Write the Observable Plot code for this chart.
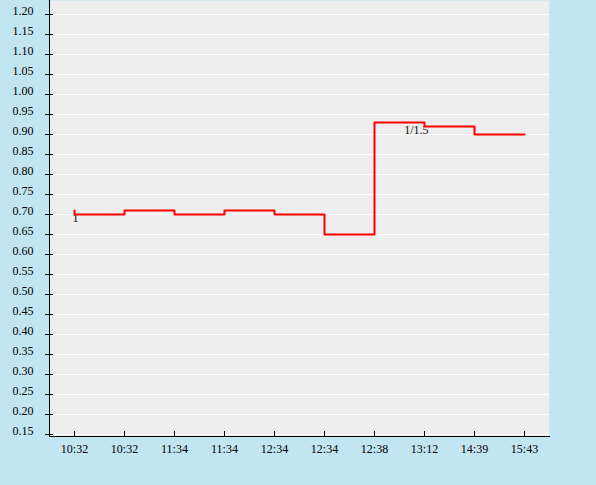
<!DOCTYPE html>
<html>
<head>
<meta charset="utf-8">
<script src="https://cdn.jsdelivr.net/npm/d3@7"></script>
<script src="https://cdn.jsdelivr.net/npm/@observablehq/plot@0.6"></script>
<style>
  html, body { margin: 0; padding: 0; background: #c1e5f1; }
  #chart { width: 596px; height: 485px; }
</style>
</head>
<body>
<div id="chart"></div>
<script>
const times = ["10:32", "10:32", "11:34", "11:34", "12:34", "12:34", "12:38", "13:12", "14:39", "15:43"];
const values = [0.71, 0.70, 0.71, 0.70, 0.71, 0.70, 0.65, 0.93, 0.92, 0.90];
const labels = ["1", "", "", "", "", "", "", "1/1.5", "", ""];
const yTicks = [0.15, 0.20, 0.25, 0.30, 0.35, 0.40, 0.45, 0.50, 0.55, 0.60, 0.65, 0.70, 0.75, 0.80, 0.85, 0.90, 0.95, 1.00, 1.05, 1.10, 1.15, 1.20];

const data = times.map((t, i) => ({i, t, v: values[i], label: labels[i]}));
const idx = data.map(d => d.i);

const chart = Plot.plot({
  width: 596,
  height: 485,
  marginTop: 0,
  marginLeft: 49,
  marginRight: 47,
  marginBottom: 49,
  style: {fontFamily: "'Liberation Serif', 'Times New Roman', serif", fontSize: "12px", background: "transparent", color: "#000"},
  x: {type: "point", domain: idx, range: [49, 549], padding: 0.5},
  y: {domain: [0.145, 1.235]},
  marks: [
    Plot.frame({fill: "#eeeeee", stroke: null}),
    Plot.gridY(yTicks, {stroke: "#ffffff", strokeOpacity: 1, strokeWidth: 1}),
    Plot.axisY(yTicks, {tickSize: 8, dx: 4, fill: "none", stroke: "#000", label: null}),
    Plot.axisY(yTicks, {tickSize: 0, tickPadding: 16, dy: -3, stroke: "none", fill: "#000", tickFormat: d3.format(".2f"), label: null}),
    Plot.axisX(idx, {tickSize: 5, dy: -5, fill: "none", stroke: "#000", label: null}),
    Plot.axisX(idx, {tickSize: 0, tickPadding: 8, stroke: "none", fill: "#000", tickFormat: i => times[i], label: null}),
    Plot.frame({anchor: "left", stroke: "#000"}),
    Plot.frame({anchor: "bottom", stroke: "#000"}),
    Plot.text(data.filter(d => d.label), {x: "i", y: "v", text: "label", textAnchor: "end", lineAnchor: "top", dx: 4, dy: 3, fill: "#111"}),
    Plot.line(data, {x: "i", y: "v", curve: "step-before", stroke: "#ff0000", strokeWidth: 2})
  ]
});
document.getElementById("chart").appendChild(chart);
</script>
</body>
</html>
